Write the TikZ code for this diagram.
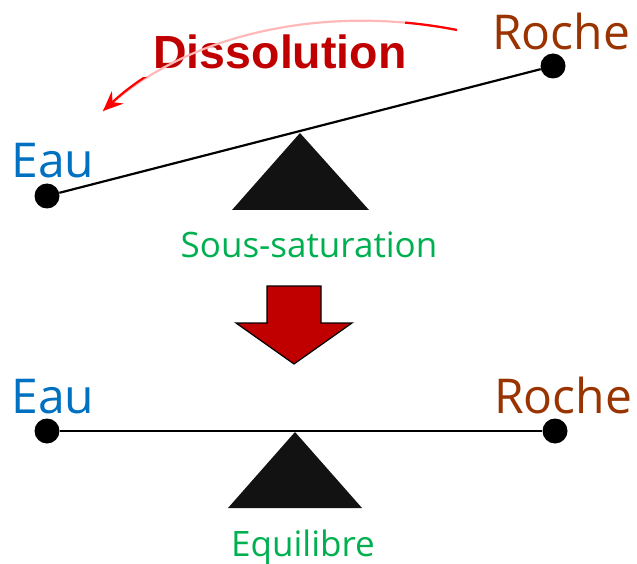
\documentclass[tikz,border=0pt]{standalone}
\usepackage{fontspec}
\setmainfont{Open Sans}
\newfontfamily\lblfont{Open Sans}
\newfontfamily\dissfont{Liberation Sans}
\usetikzlibrary{arrows.meta}
\definecolor{eaublue}{HTML}{0070C0}
\definecolor{rochebrown}{HTML}{993300}
\definecolor{dissred}{HTML}{C00000}
\definecolor{okgreen}{HTML}{00B050}
\definecolor{arrowred}{HTML}{FF0000}
\tikzset{
  dot/.style={circle,fill=black,inner sep=0pt,minimum size=25pt},
  beam/.style={line width=2.2pt,black},
  pivot/.style={fill=black!93},
  eaulbl/.style={text=eaublue,anchor=base,inner sep=0pt,font=\fontsize{48}{48}\lblfont},
  rochelbl/.style={text=rochebrown,anchor=base,inner sep=0pt,font=\fontsize{48}{48}\lblfont},
  statelbl/.style={text=okgreen,anchor=base,inner sep=0pt,font=\fontsize{35}{35}\lblfont},
  disslbl/.style={text=dissred,anchor=base,inner sep=0pt,font=\fontsize{46.5}{46.5}\dissfont\bfseries},
  bigarrow/.style={fill=dissred,draw=black,line width=1.2pt,line join=miter},
}
\begin{document}
\begin{tikzpicture}[x=1pt,y=-1pt]
\useasboundingbox (0,0) rectangle (637,564);
% top balance
\fill[pivot] (300,133) -- (369,210) -- (232,210) -- cycle;
\node[dot] (eau1) at (47,196) {};
\node[dot] (roche1) at (553,66) {};
\draw[beam] (eau1) -- (roche1);
\node[eaulbl] (teau1) at (53,178) {Eau};
\node[rochelbl] (troche1) at (561,50) {Roche};
\node[disslbl] (diss) at (280,69) {Dissolution};
\node[statelbl] (sous) at (309,258) {Sous-saturation};
% dissolution arc
\coordinate (arcstart) at (457,30);
\coordinate (arcend) at (103,111);
\draw[red!28,line width=2.2pt] (arcstart) .. controls (330,5) and (190,30) .. (arcend);
\begin{scope}
\clip (405,0) rectangle (470,60);
\draw[arrowred,line width=2.2pt] (arcstart) .. controls (330,5) and (190,30) .. (arcend);
\end{scope}
\begin{scope}
\clip (85,78) rectangle (154,125);
\draw[arrowred,line width=2.2pt,-{Stealth[length=20pt,width=17pt,inset=7pt]}] (arcstart) .. controls (330,5) and (190,30) .. (arcend);
\end{scope}
% big down arrow
\draw[bigarrow] (267,286) -- (321,286) -- (321,323) -- (352,323) -- (294,364) -- (236,323) -- (267,323) -- cycle;
% bottom balance
\fill[pivot] (295,432) -- (362,508) -- (228,508) -- cycle;
\node[dot] (eau2) at (47,431) {};
\node[dot] (roche2) at (555,431) {};
\draw[beam] (eau2) -- (roche2);
\node[eaulbl] (teau2) at (53,413) {Eau};
\node[rochelbl] (troche2) at (563,413) {Roche};
\node[statelbl] (equi) at (303,556) {Equilibre};
\end{tikzpicture}
\end{document}
